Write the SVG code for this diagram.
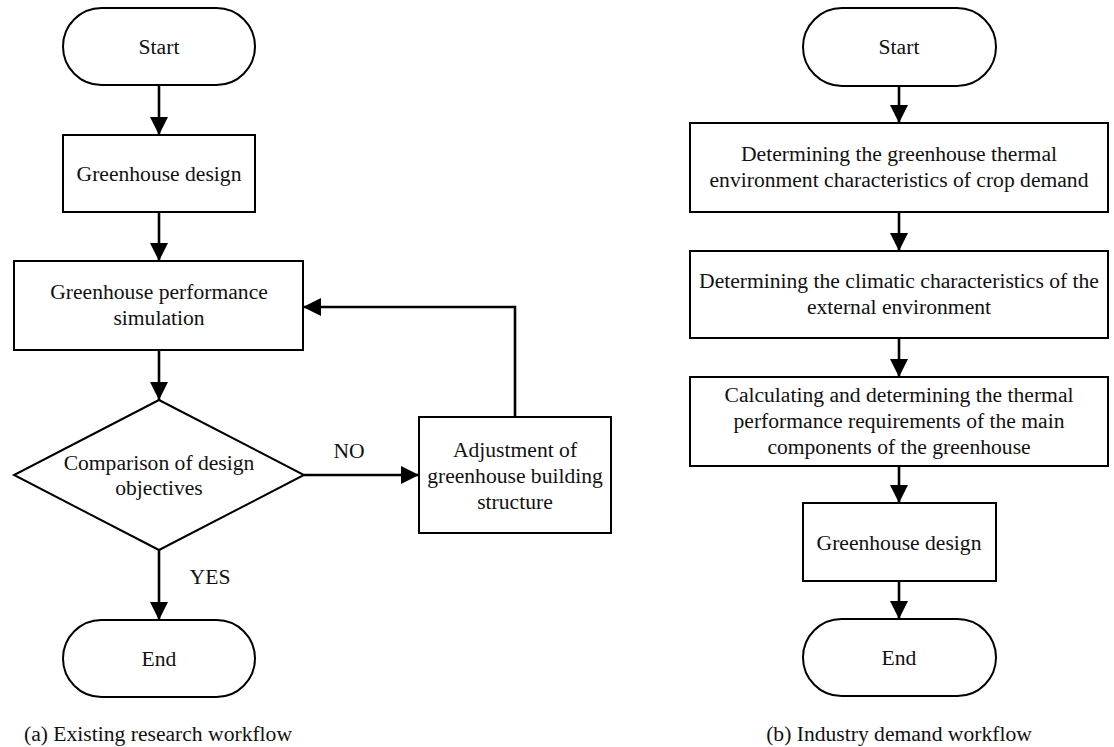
<svg xmlns="http://www.w3.org/2000/svg" width="1114" height="747" viewBox="0 0 1114 747">
<defs>
<marker id="ah" markerUnits="userSpaceOnUse" markerWidth="18" markerHeight="18" refX="18" refY="9" orient="auto">
<path d="M0,0 L18,9 L0,18 Z" fill="#000"/>
</marker>
<style>
.shape{fill:#fff;stroke:#000;stroke-width:2}
.conn{fill:none;stroke:#000;stroke-width:2.6;marker-end:url(#ah)}
text{font-family:"Liberation Serif","Times New Roman",serif;font-size:21.6px;fill:#111;text-anchor:middle}
</style>
</defs>
<rect width="1114" height="747" fill="#fff"/>
<g id="connectors">
<path class="conn" d="M159,85 L159,135"/>
<path class="conn" d="M159,212 L159,261"/>
<path class="conn" d="M159,350 L159,400"/>
<path class="conn" d="M304,475 L419,475"/>
<path class="conn" d="M515,417 L515,307 L303,307"/>
<path class="conn" d="M159,550 L159,620"/>
<path class="conn" d="M899,86 L899,123"/>
<path class="conn" d="M899,212 L899,251"/>
<path class="conn" d="M899,338 L899,377"/>
<path class="conn" d="M899,466 L899,503"/>
<path class="conn" d="M899,581 L899,619"/>
</g>
<g id="labels">
<text x="349" y="458">NO</text>
<text x="210" y="584">YES</text>
</g>
<g id="a-start"><rect class="shape" x="63" y="8" width="192" height="77" rx="38.5"/><text x="159" y="54">Start</text></g>
<g id="a-design"><rect class="shape" x="63" y="135" width="192" height="77"/><text x="159" y="181">Greenhouse design</text></g>
<g id="a-sim"><rect class="shape" x="14" y="261" width="289" height="89"/><text x="159" y="299">Greenhouse performance</text><text x="159" y="325">simulation</text></g>
<g id="a-compare"><path class="shape" d="M159,400 L304,475 L159,550 L14,475 Z"/><text x="159" y="470">Comparison of design</text><text x="159" y="495">objectives</text></g>
<g id="a-adjust"><rect class="shape" x="419" y="417" width="192" height="116"/><text x="515" y="457">Adjustment of</text><text x="515" y="483">greenhouse building</text><text x="515" y="509">structure</text></g>
<g id="a-end"><rect class="shape" x="63" y="620" width="192" height="77" rx="38.5"/><text x="159" y="666">End</text></g>
<g id="a-caption"><text x="158" y="741">(a) Existing research workflow</text></g>
<g id="b-start"><rect class="shape" x="803" y="8" width="193" height="78" rx="39"/><text x="899" y="54">Start</text></g>
<g id="b-crop"><rect class="shape" x="690" y="123" width="418" height="89"/><text x="899" y="161">Determining the greenhouse thermal</text><text x="899" y="187">environment characteristics of crop demand</text></g>
<g id="b-climate"><rect class="shape" x="690" y="251" width="418" height="87"/><text x="899" y="288">Determining the climatic characteristics of the</text><text x="899" y="314">external environment</text></g>
<g id="b-calc"><rect class="shape" x="690" y="377" width="418" height="89"/><text x="899" y="402">Calculating and determining the thermal</text><text x="899" y="428">performance requirements of the main</text><text x="899" y="454">components of the greenhouse</text></g>
<g id="b-design"><rect class="shape" x="803" y="503" width="193" height="78"/><text x="899" y="550">Greenhouse design</text></g>
<g id="b-end"><rect class="shape" x="803" y="619" width="193" height="77" rx="38.5"/><text x="899" y="665">End</text></g>
<g id="b-caption"><text x="899" y="741">(b) Industry demand workflow</text></g>
</svg>
